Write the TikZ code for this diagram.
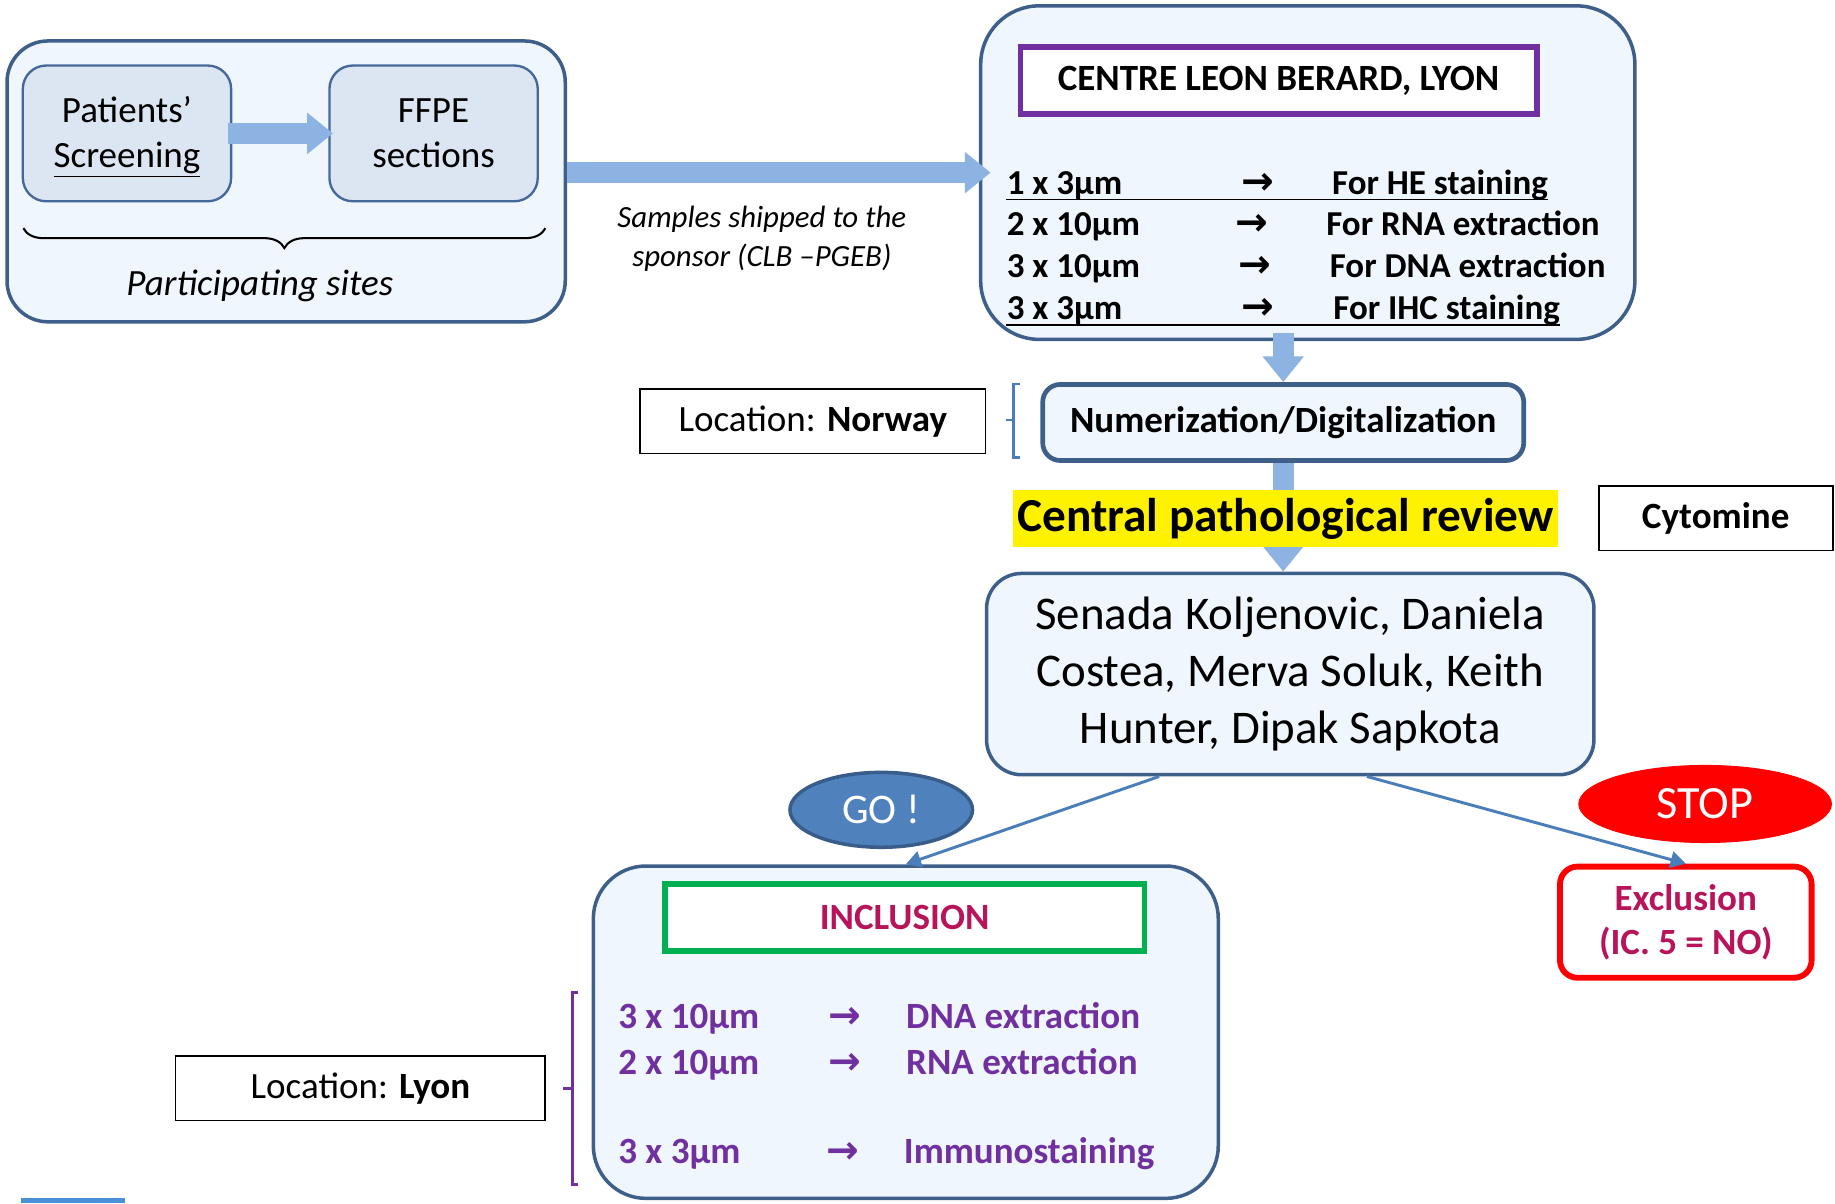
\documentclass[tikz,border=0pt]{standalone}
\usepackage{fontspec}
\setmainfont{Carlito}
\newfontfamily\symfont{DejaVu Sans}
\usepackage{xcolor}
\usepackage{tikz}
\usetikzlibrary{positioning,arrows.meta,shapes.geometric,calc,decorations.pathreplacing}
\definecolor{boxfill}{HTML}{F0F6FD}
\definecolor{boxline}{HTML}{3E5F8A}
\definecolor{infill}{HTML}{DCE6F2}
\definecolor{inline}{HTML}{45689A}
\definecolor{arrblue}{HTML}{8DB3E2}
\definecolor{connblue}{HTML}{4A7EBB}
\definecolor{goblue}{HTML}{4F81BD}
\definecolor{godark}{HTML}{385D8A}
\definecolor{clbpurple}{HTML}{7030A0}
\definecolor{incgreen}{HTML}{00B050}
\definecolor{crimson}{HTML}{B8145A}
\definecolor{barblue}{HTML}{4A90D9}
\newcommand{\fsz}[2]{\fontsize{#1}{#2}\selectfont}

\begin{document}
\begin{tikzpicture}[x=0.2mm, y=-0.2mm,
  bigbox/.style={draw=boxline, line width=0.6mm, fill=boxfill, rounded corners=8mm, inner sep=0pt},
  inbox/.style={draw=inline, line width=0.4mm, fill=infill, rounded corners=4mm,
                minimum width=35.6mm, minimum height=23.2mm, align=center, font=\fsz{18}{22}},
  framebox/.style={draw=black, line width=0.3mm, fill=white, minimum height=11mm,
                   inner sep=1pt, font=\fsz{18}{22}},
  titlebox/.style={fill=white, line width=1mm, minimum height=11.4mm, font=\bfseries\fsz{18}{22}},
  blockarr/.style={line width=3.6mm, draw=arrblue, -{Triangle[length=4.4mm,width=6.8mm]}},
  conn/.style={line width=0.5mm, draw=connblue, -{Triangle[length=2.6mm,width=2.8mm]}},
  rowtxt/.style={anchor=base west, inner sep=0pt, font=\bfseries\fsz{17}{20}},
  rowarr/.style={anchor=base, inner sep=0pt, font=\symfont\bfseries\fsz{19}{22}},
  brk/.style={line width=0.45mm},
]
\useasboundingbox (0,0) rectangle (1568,1028);

% Participating sites
\node[bigbox, minimum width=95.4mm, minimum height=48mm, rounded corners=7mm] (sites) at (244.5,155) {};
\node[inbox] (screen) at (108.5,114) {Patients’\\\underline{Screening}\vspace{-1.2mm}};
\node[inbox] (ffpe) at (370.5,114) {FFPE\\sections};
\draw[blockarr] ([xshift=-0.8mm]screen.east) -- ([xshift=0.8mm]ffpe.west);
\draw[decorate, decoration={brace, mirror, amplitude=3.4mm}, line width=0.35mm]
  (20,195) -- (466,195);
\node[font=\itshape\fsz{18}{22}] (sitelab) at (222,244) {Participating sites};

% Centre Leon Berard
\node[bigbox, minimum width=111.8mm, minimum height=57mm, rounded corners=10mm] (clb) at (1117.5,147.5) {};
\node[titlebox, draw=clbpurple, minimum width=88.2mm] (clbtitle) at (1092.5,69) {CENTRE LEON BERARD, LYON};
\foreach \i/\y/\xb/\xc/\ta/\tc in {1/166/1075/1138/{1 x 3µm}/{For HE staining},
                                   2/201/1070/1133/{2 x 10µm}/{For RNA extraction},
                                   3/237/1072/1136/{3 x 10µm}/{For DNA extraction},
                                   4/273/1075/1139/{3 x 3µm}/{For IHC staining}}{
  \node[rowtxt] (ra\i) at (860,\y) {\ta};
  \node[rowarr] (rb\i) at (\xb,\y) {→};
  \node[rowtxt] (rc\i) at (\xc,\y) {\tc};
}
\draw[line width=0.3mm] ([yshift=-0.9mm]ra1.base west) -- ([yshift=-0.9mm]ra1.base west -| rc1.east);
\draw[line width=0.3mm] ([yshift=-0.9mm]ra4.base west) -- ([yshift=-0.9mm]ra4.base west -| rc4.east);

% shipping arrow
\draw[blockarr] (sites.east |- clb.west) -- ([xshift=2mm]clb.west);
\node[font=\itshape\fsz{15}{18.8}, align=center] (shiplab) at (651,204) {Samples shipped to the\\sponsor (CLB –PGEB)};

% digitalization
\node[draw=boxline, line width=0.8mm, fill=boxfill, rounded corners=3mm, minimum width=82.2mm,
      minimum height=13mm, font=\bfseries\fsz{18}{22}] (num) at (1096.5,361) {Numerization/Digitalization};
\node[framebox, minimum width=59mm] (norway) at (694.5,360) {Location: \textbf{Norway}};
\draw[brk, connblue] (872,328) -- (866,328) -- (866,391) -- (872,391) (866,359) -- (860,359);
\draw[blockarr] ([yshift=1.4mm]clb.south -| num.north) -- (num.north);

% review
\node[bigbox, minimum width=103.8mm, minimum height=34.4mm, rounded corners=6mm, align=center,
      font=\fsz{22.8}{27.9}] (review) at (1102.5,576)
  {Senada Koljenovic, Daniela\\Costea, Merva Soluk, Keith\\Hunter, Dipak Sapkota};
\draw[blockarr] (num.south) -- (num.south |- review.north);
\node[fill=yellow, minimum width=93mm, minimum height=9.8mm, inner sep=0pt,
      font=\bfseries\fsz{23}{27}] (central) at (1098.5,443) {Central pathological review};
\node[framebox, minimum width=40mm, font=\bfseries\fsz{18}{22}] (cyto) at (1466,443) {Cytomine};

% decision
\node[ellipse, fill=goblue, draw=godark, line width=0.6mm, minimum width=31.2mm, minimum height=12.8mm,
      text=white, font=\fsz{20.5}{24}] (go) at (753,692) {GO !};
\node[ellipse, fill=red, draw=red, minimum width=43.2mm, minimum height=13.2mm,
      text=white, font=\fsz{22.5}{26}] (stop) at (1457,687) {STOP};

% inclusion
\node[bigbox, minimum width=106.8mm, minimum height=56.8mm, rounded corners=9mm] (incl) at (774,882) {};
\node[titlebox, draw=incgreen, minimum width=82mm, text=crimson] (incltitle) at (773,784) {INCLUSION};
\foreach \i/\y/\xb/\xc/\ta/\tc in {1/879/722/774/{3 x 10µm}/{DNA extraction},
                                   2/918/722/774/{2 x 10µm}/{RNA extraction},
                                   3/994/720/772/{3 x 3µm}/{Immunostaining}}{
  \node[rowtxt, text=clbpurple, font=\bfseries\fsz{18}{22}] (pa\i) at (528,\y) {\ta};
  \node[rowarr, text=clbpurple] (pb\i) at (\xb,\y) {→};
  \node[rowtxt, text=clbpurple, font=\bfseries\fsz{18}{22}] (pc\i) at (\xc,\y) {\tc};
}
\draw[brk, clbpurple, line width=0.55mm] (494,848) -- (489,848) -- (489,1012) -- (494,1012) (489,930) -- (481,930);
\node[framebox, minimum width=63.2mm] (lyon) at (308,930) {Location: \textbf{Lyon}};

% exclusion
\node[draw=red, line width=1mm, fill=white, rounded corners=3mm, minimum width=43mm, minimum height=19mm,
      align=center, text=crimson, font=\bfseries\fsz{18}{21.6}] (excl) at (1440.5,788) {Exclusion\\(IC. 5 = NO)};

% connectors
\draw[conn] ([xshift=-22.4mm]review.south) -- (incl.north);
\draw[conn] ([xshift=13.1mm]review.south) -- (excl.north);

\fill[barblue] (18,1024) rectangle (107,1028);
\end{tikzpicture}
\end{document}
